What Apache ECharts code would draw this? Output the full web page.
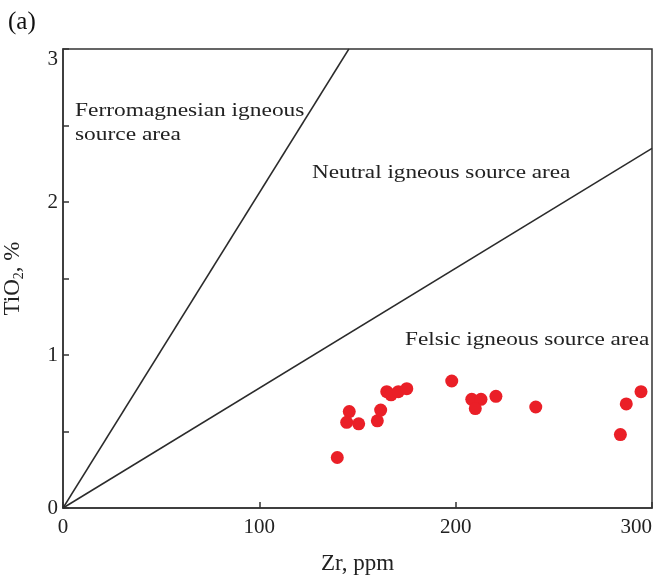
<!DOCTYPE html>
<html><head><meta charset="utf-8">
<script src="https://cdn.jsdelivr.net/npm/echarts@6/dist/echarts.min.js"></script>
<style>html,body{margin:0;padding:0;background:#fff}#c{width:659px;height:576px}</style>
</head><body><div id="c"></div>
<script>
const zr = [139.7,145.8,144.5,150.6,160.1,161.8,164.9,167.1,170.8,175.1,198.0,208.2,212.9,210.0,220.5,240.8,286.9,283.9,294.4];
const tio2 = [0.33,0.63,0.56,0.55,0.57,0.64,0.76,0.74,0.76,0.78,0.83,0.71,0.71,0.65,0.73,0.66,0.68,0.48,0.76];
const ferroLine = [[0,0],[145.6,3]];
const neutralLine = [[0,0],[300,2.35]];
const font = '"Liberation Serif","DejaVu Serif",serif';
const chart = echarts.init(document.getElementById('c'));
chart.setOption({
  animation:false,
  backgroundColor:'#fff',
  grid:{left:63,right:7,top:49,bottom:68,containLabel:false,outerBoundsMode:'none',show:true,borderColor:'#333',borderWidth:1.5,backgroundColor:'transparent'},
  xAxis:{type:'value',min:0,max:300,interval:100,
    name:'Zr, ppm',nameLocation:'middle',nameGap:44,
    nameTextStyle:{fontFamily:font,fontSize:23,color:'#222'},
    axisLine:{lineStyle:{color:'#333',width:1.5}},
    axisTick:{inside:true,length:6,lineStyle:{color:'#333',width:1.5}},
    axisLabel:{fontFamily:font,fontSize:21,color:'#222',margin:9,alignMaxLabel:'right'},
    splitLine:{show:false}},
  yAxis:{type:'value',min:0,max:3,interval:0.5,
    name:'{a|TiO}{s|2}{a|, %}',nameLocation:'middle',nameGap:37,
    nameTextStyle:{rich:{a:{fontFamily:font,fontSize:23,color:'#222'},s:{fontFamily:font,fontSize:14,color:'#222',verticalAlign:'bottom',padding:[12,0,0,0]}}},
    axisLine:{lineStyle:{color:'#333',width:1.5}},
    axisTick:{inside:true,length:6,lineStyle:{color:'#333',width:1.5}},
    axisLabel:{fontFamily:font,fontSize:21,color:'#222',margin:5,verticalAlignMaxLabel:'top',formatter:v=>Number.isInteger(v)?String(v):''},
    splitLine:{show:false}},
  series:[
    {type:'line',data:ferroLine,symbol:'none',lineStyle:{color:'#2b2b2b',width:1.5},z:1},
    {type:'line',data:neutralLine,symbol:'none',lineStyle:{color:'#2b2b2b',width:1.5},z:1},
    {type:'scatter',data:zr.map((x,i)=>[x,tio2[i]]),symbolSize:13,itemStyle:{color:'#ea1f27',opacity:1},z:3}
  ],
  graphic:[
    {type:'text',x:8,y:10,style:{text:'(a)',font:'25px '+font,fill:'#111'}},
    {type:'text',x:75,y:101,scaleX:1.2,style:{text:'Ferromagnesian igneous',font:'19.5px '+font,fill:'#222'}},
    {type:'text',x:75,y:125,scaleX:1.2,style:{text:'source area',font:'19.5px '+font,fill:'#222'}},
    {type:'text',x:312,y:163,scaleX:1.19,style:{text:'Neutral igneous source area',font:'19.5px '+font,fill:'#222'}},
    {type:'text',x:405,y:330,scaleX:1.19,style:{text:'Felsic igneous source area',font:'19.5px '+font,fill:'#222'}}
  ]
});
</script></body></html>
